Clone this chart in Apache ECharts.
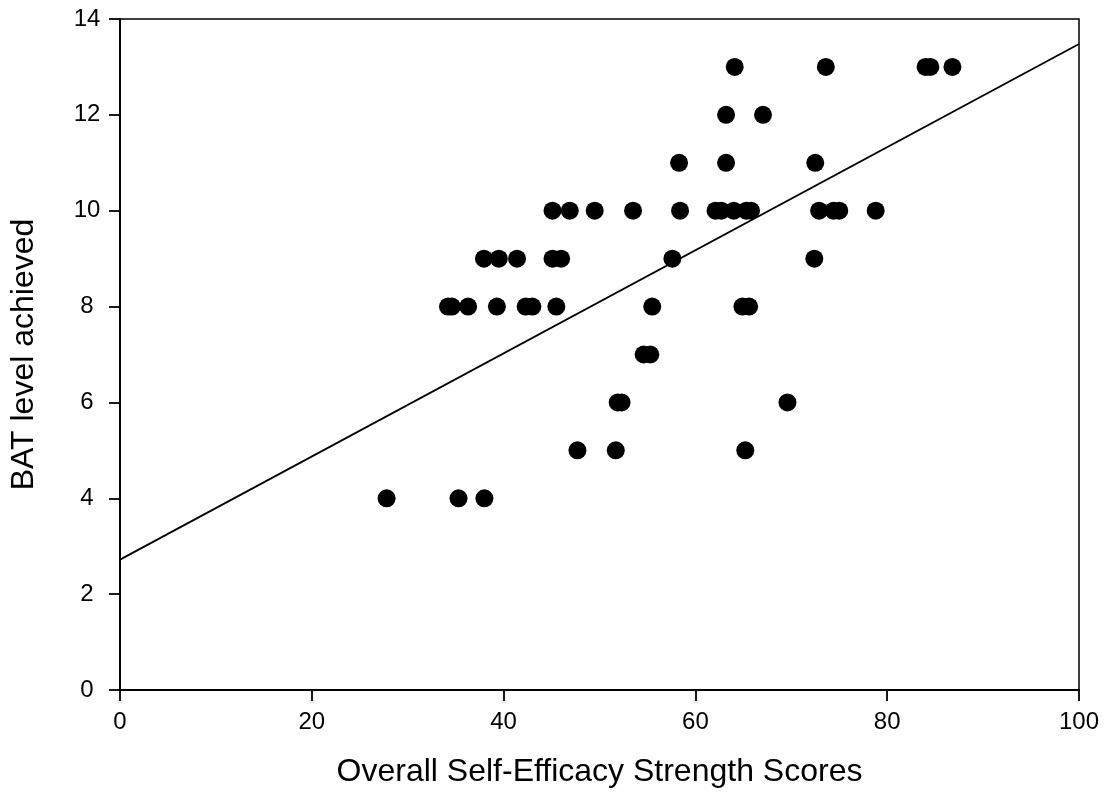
<!DOCTYPE html>
<html>
<head>
<meta charset="utf-8">
<script src="https://cdn.jsdelivr.net/npm/echarts@6/dist/echarts.min.js"></script>
<style>html,body{margin:0;padding:0;background:#fff}#c{width:1109px;height:807px}</style>
</head>
<body>
<div id="c"></div>
<script>
// Overall Self-Efficacy Strength Scores (x) and BAT level achieved (y)
const scores = [
  64.1, 73.6, 84.0, 84.5, 86.8,
  63.2, 67.05,
  58.3, 63.2, 72.5,
  45.1, 46.9, 49.5, 53.5, 58.4, 62.1, 62.7, 64.0, 65.3, 65.8, 72.9, 74.4, 75.0, 78.8,
  37.95, 39.5, 41.4, 45.1, 46.0, 57.6, 72.4,
  34.2, 34.6, 36.3, 39.3, 42.3, 43.0, 45.5, 55.5, 64.9, 65.6,
  54.6, 55.3,
  51.9, 52.3, 69.6,
  47.7, 51.7, 65.2,
  27.8, 35.3, 38.0
];
const levels = [
  13, 13, 13, 13, 13,
  12, 12,
  11, 11, 11,
  10, 10, 10, 10, 10, 10, 10, 10, 10, 10, 10, 10, 10, 10,
  9, 9, 9, 9, 9, 9, 9,
  8, 8, 8, 8, 8, 8, 8, 8, 8, 8,
  7, 7,
  6, 6, 6,
  5, 5, 5,
  4, 4, 4
];
// regression line endpoints
const fitX = [0, 100];
const fitY = [2.72, 13.48];

const points = scores.map((s, i) => [s, levels[i]]);
const fitLine = fitX.map((x, i) => [x, fitY[i]]);

const font = '"Liberation Sans", Arial, sans-serif';
const chart = echarts.init(document.getElementById('c'));
chart.setOption({
  animation: false,
  backgroundColor: '#fff',
  grid: {left: 120, right: 30, top: 19, bottom: 117, show: true, borderColor: '#000', borderWidth: 1.5, backgroundColor: 'transparent'},
  xAxis: {
    type: 'value', min: 0, max: 100, interval: 20,
    name: 'Overall Self-Efficacy Strength Scores', nameLocation: 'middle', nameGap: 66,
    nameTextStyle: {fontFamily: font, fontSize: 32, color: '#000'},
    axisLine: {show: true, onZero: false, lineStyle: {color: '#000', width: 1.8}},
    axisTick: {show: true, inside: false, length: 11, lineStyle: {color: '#000', width: 1.8}},
    axisLabel: {fontFamily: font, fontSize: 24, color: '#000', margin: 20},
    splitLine: {show: false}
  },
  yAxis: {
    type: 'value', min: 0, max: 14, interval: 2,
    name: 'BAT level achieved', nameLocation: 'middle', nameGap: 80,
    nameTextStyle: {fontFamily: font, fontSize: 32, color: '#000'},
    axisLine: {show: true, onZero: false, lineStyle: {color: '#000', width: 1.8}},
    axisTick: {show: true, inside: false, length: 11, lineStyle: {color: '#000', width: 1.8}},
    axisLabel: {fontFamily: font, fontSize: 24, color: '#000', margin: 33, align: 'center'},
    splitLine: {show: false}
  },
  series: [
    {
      type: 'line', data: fitLine, showSymbol: false, symbol: 'none',
      lineStyle: {color: '#000', width: 1.8}, z: 2
    },
    {
      type: 'scatter', data: points, symbol: 'circle', symbolSize: 18,
      itemStyle: {color: '#000', opacity: 1}, z: 3
    }
  ]
});
</script>
</body>
</html>
